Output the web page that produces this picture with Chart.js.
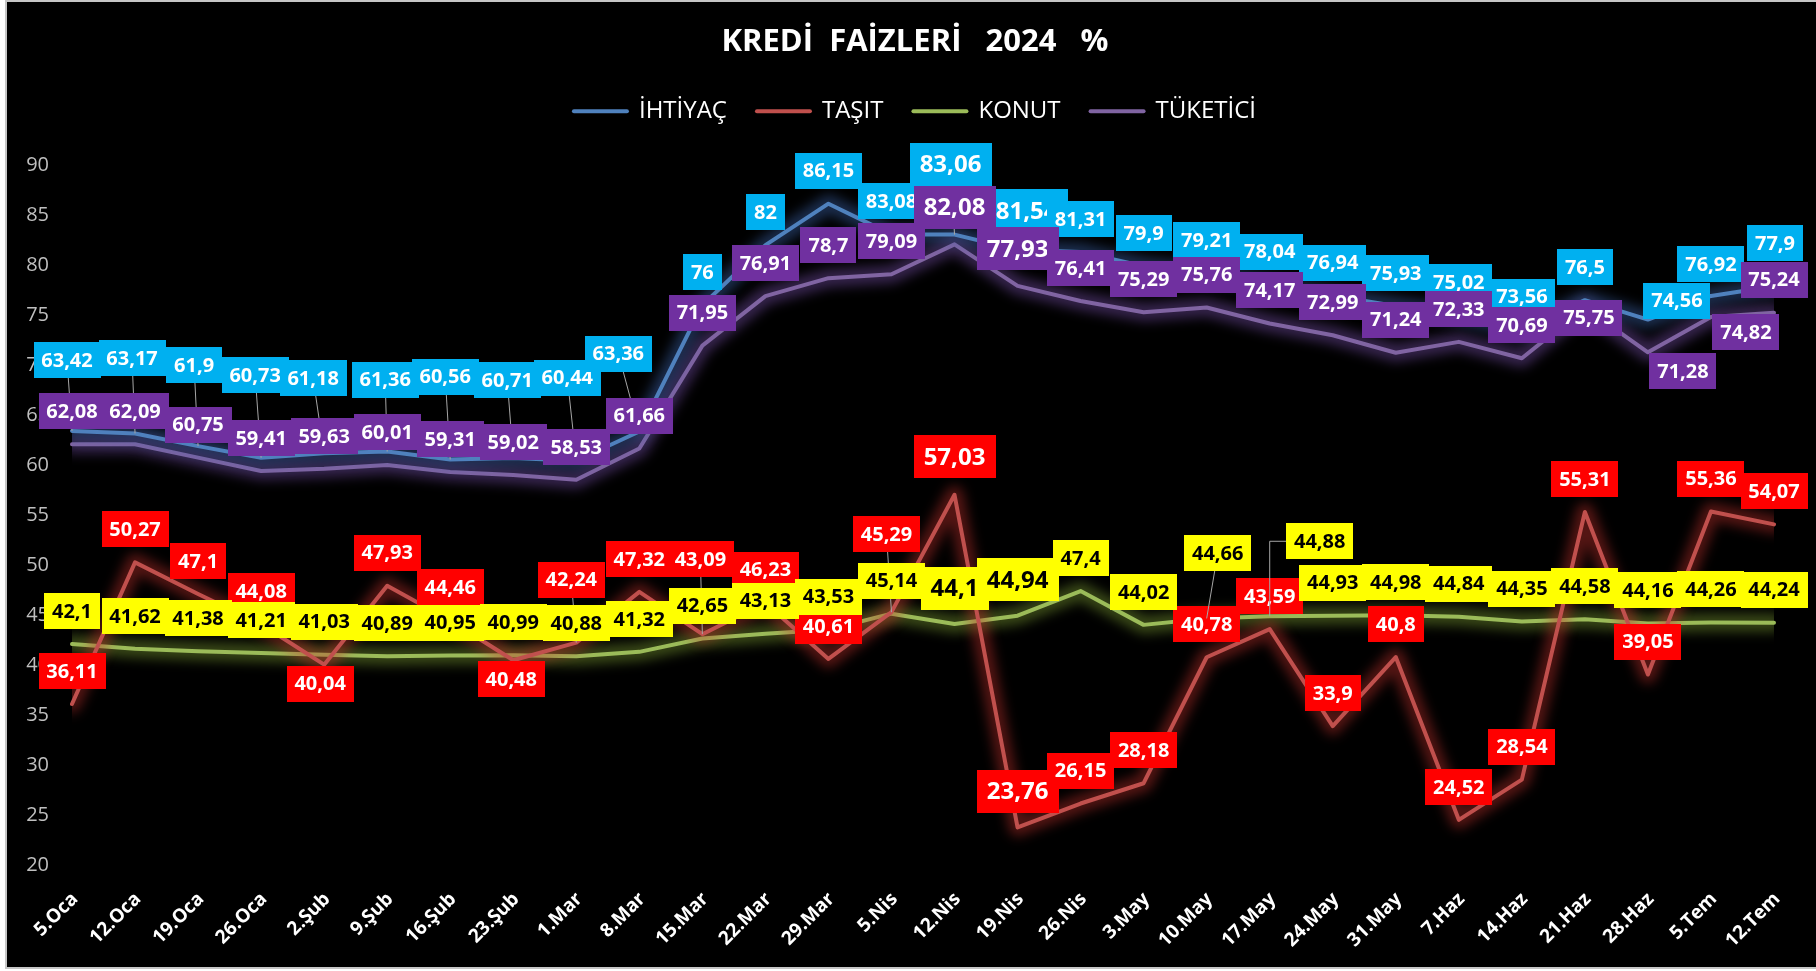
<!DOCTYPE html>
<html>
<head>
<meta charset="utf-8">
<script src="https://cdn.jsdelivr.net/npm/chart.js@4.4.1/dist/chart.umd.min.js"></script>
<style>
  html, body { margin: 0; padding: 0; background: #ffffff; width: 1816px; height: 971px; overflow: hidden; }
  #frame { position: absolute; left: 5px; top: 0; width: 1809px; height: 965px; background: #000;
           border-left: 2px solid #C6C6C6; border-top: 2px solid #C6C6C6; border-bottom: 2px solid #C6C6C6; }
  #chart { position: absolute; left: 0; top: 0; }
</style>
</head>
<body>
<div id="frame"></div>
<canvas id="chart" width="1816" height="971"></canvas>
<script>
// ---------------- data ----------------
const categories = ['5.Oca','12.Oca','19.Oca','26.Oca','2.Şub','9.Şub','16.Şub','23.Şub','1.Mar','8.Mar',
  '15.Mar','22.Mar','29.Mar','5.Nis','12.Nis','19.Nis','26.Nis','3.May','10.May','17.May',
  '24.May','31.May','7.Haz','14.Haz','21.Haz','28.Haz','5.Tem','12.Tem'];

const ihtiyac  = [63.42, 63.17, 61.9, 60.73, 61.18, 61.36, 60.56, 60.71, 60.44, 63.36,
  76, 82, 86.15, 83.08, 83.06, 81.54, 81.31, 79.9, 79.21, 78.04,
  76.94, 75.93, 75.02, 73.56, 76.5, 74.56, 76.92, 77.9];
const tasit    = [36.11, 50.27, 47.1, 44.08, 40.04, 47.93, 44.46, 40.48, 42.24, 47.32,
  43.09, 46.23, 40.61, 45.29, 57.03, 23.76, 26.15, 28.18, 40.78, 43.59,
  33.9, 40.8, 24.52, 28.54, 55.31, 39.05, 55.36, 54.07];
const konut    = [42.1, 41.62, 41.38, 41.21, 41.03, 40.89, 40.95, 40.99, 40.88, 41.32,
  42.65, 43.13, 43.53, 45.14, 44.1, 44.94, 47.4, 44.02, 44.66, 44.88,
  44.93, 44.98, 44.84, 44.35, 44.58, 44.16, 44.26, 44.24];
const tuketici = [62.08, 62.09, 60.75, 59.41, 59.63, 60.01, 59.31, 59.02, 58.53, 61.66,
  71.95, 76.91, 78.7, 79.09, 82.08, 77.93, 76.41, 75.29, 75.76, 74.17,
  72.99, 71.24, 72.33, 70.69, 75.75, 71.28, 74.82, 75.24];

const seriesNames = ['İHTİYAÇ', 'TAŞIT', 'KONUT', 'TÜKETİCİ'];
const yTickValues = [20, 25, 30, 35, 40, 45, 50, 55, 60, 65, 70, 75, 80, 85, 90];
const chartTitle = 'KREDİ  FAİZLERİ   2024   %';

// ---------------- label layout (pixel shifts of label centres from their points) ----------------
const bigLabelIdx = [14, 15];
const defaultShift = [0, -33];
const labelLayout = [
  { bg: '#00B0F0', fg: '#FFFFFF',
    shift: {0:[-5,-71],1:[-3,-75],2:[-4,-81],3:[-6,-83],4:[-11,-75],5:[-2,-72],6:[-5,-83],7:[-6,-78],8:[-9,-83],9:[-21,-78],
            14:[-4,-70],15:[9,-39],25:[29,-19],26:[0,-32],27:[1,-43]},
    leader: {0:'s',1:'s',2:'s',3:'s',4:'s',5:'s',6:'s',7:'s',8:'s',9:'s',14:'s'} },
  { bg: '#FF0000', fg: '#FFFFFF',
    shift: {4:[-4,19],7:[-2,19],8:[-5,-63],10:[-2,-75],13:[-5,-78],14:[0,-38],15:[0,-36]},
    leader: {8:'s',10:'s',13:'s'} },
  { bg: '#FFFF00', fg: '#000000',
    shift: {14:[0,-36],15:[0,-36],18:[11,-65],19:[50,-75]},
    leader: {18:'s',19:'e'} },
  { bg: '#7030A0', fg: '#FFFFFF',
    shift: {14:[0,-37],15:[0,-37],24:[4,10],25:[35,19],26:[35,15]},
    leader: {} }
];
const lineColors = ['#4F81BD', '#C0504D', '#9BBB59', '#8064A2'];
const glowColors = ['rgba(60,100,170,0.45)', 'rgba(200,50,45,0.42)', 'rgba(150,190,60,0.38)', 'rgba(120,80,170,0.45)'];

const FONT = '"Open Sans", "Noto Sans", sans-serif';
Chart.defaults.font.family = FONT;

function fmt(v) { return String(v).replace('.', ','); }

// soft glow under each line, drawn from the dataset's own element positions
const glowPlugin = {
  id: 'glow',
  beforeDatasetDraw(chart, args) {
    const ctx = chart.ctx;
    const pts = args.meta.data;
    const a = chart.chartArea;
    ctx.save();
    ctx.beginPath();
    ctx.rect(a.left, a.top - 20, a.right - a.left, a.bottom - a.top + 40);
    ctx.clip();
    ctx.filter = 'blur(6px)';
    ctx.strokeStyle = glowColors[args.index];
    ctx.lineWidth = 18;
    ctx.lineJoin = 'round';
    ctx.lineCap = 'round';
    ctx.beginPath();
    pts.forEach((p, i) => { if (i === 0) ctx.moveTo(p.x, p.y); else ctx.lineTo(p.x, p.y); });
    ctx.stroke();
    ctx.restore();
  }
};

const labelPlugin = {
  id: 'pointLabels',
  afterDatasetsDraw(chart) {
    const ctx = chart.ctx;
    chart.data.datasets.forEach((ds, di) => {
      const meta = chart.getDatasetMeta(di);
      const lay = labelLayout[di];
      meta.data.forEach((pt, i) => {
        const big = bigLabelIdx.includes(i);
        const fs = big ? 24 : 20;
        const sh = lay.shift[i] || defaultShift;
        const cx = pt.x + sh[0], cy = pt.y + sh[1];
        const text = fmt(ds.data[i]);
        ctx.save();
        ctx.font = 'bold ' + fs + 'px ' + FONT;
        const tw = ctx.measureText(text).width;
        const pad = big ? 10 : 8;
        const w = Math.round(tw + 2 * pad), h = big ? 43 : 36;
        const ld = lay.leader[i];
        if (ld) {
          ctx.beginPath();
          ctx.strokeStyle = '#A6A6A6';
          ctx.lineWidth = 1;
          ctx.moveTo(cx, cy);
          if (ld === 'e') ctx.lineTo(pt.x, cy);
          ctx.lineTo(pt.x, pt.y);
          ctx.stroke();
        }
        ctx.fillStyle = lay.bg;
        ctx.fillRect(Math.round(cx - w / 2), Math.round(cy - h / 2), w, h);
        ctx.fillStyle = lay.fg;
        ctx.textAlign = 'center';
        ctx.textBaseline = 'middle';
        ctx.fillText(text, cx, cy + 1);
        ctx.restore();
      });
    });
  }
};

const seriesData = [ihtiyac, tasit, konut, tuketici];

const chart = new Chart(document.getElementById('chart').getContext('2d'), {
  type: 'line',
  data: {
    labels: categories,
    datasets: seriesNames.map((name, i) => ({
      label: name,
      data: seriesData[i],
      borderColor: lineColors[i],
      backgroundColor: lineColors[i],
      borderWidth: 4,
      pointRadius: 0,
      pointHoverRadius: 0,
      tension: 0,
      fill: false,
      borderCapStyle: 'round',
      borderJoinStyle: 'round'
    }))
  },
  options: {
    responsive: false,
    animation: false,
    events: [],
    layout: { padding: { left: 14, right: 0, top: 0, bottom: 0 } },
    plugins: {
      title: {
        display: true, text: chartTitle, color: '#FFFFFF',
        font: { family: FONT, size: 31, weight: 'bold', lineHeight: 1.2 },
        padding: { top: 24, bottom: 8 }
      },
      legend: {
        display: true,
        labels: {
          color: '#FFFFFF',
          font: { family: FONT, size: 24 },
          usePointStyle: true,
          pointStyle: 'line',
          pointStyleWidth: 53,
          padding: 30,
          generateLabels(ch) {
            return ch.data.datasets.map((ds, i) => ({
              text: ds.label, fillStyle: ds.borderColor, strokeStyle: ds.borderColor,
              lineWidth: 4, lineCap: 'round', pointStyle: 'line', hidden: false,
              datasetIndex: i, fontColor: '#FFFFFF'
            }));
          }
        }
      },
      tooltip: { enabled: false }
    },
    scales: {
      x: {
        type: 'category',
        offset: false,
        grid: { display: false, drawTicks: false },
        border: { display: false },
        ticks: {
          autoSkip: false, maxRotation: 45, minRotation: 45,
          color: '#FFFFFF', font: { family: FONT, size: 19, weight: 'bold' },
          padding: 23, labelOffset: 3
        },
        afterFit(s) { s.height = 106; s.paddingLeft = 0; s.paddingRight = 42; }
      },
      xTop: {
        type: 'category',
        position: 'top',
        offset: false,
        grid: { display: false, drawTicks: false },
        border: { display: false },
        ticks: { display: false },
        afterFit(s) { s.height = 32; s.paddingLeft = 0; s.paddingRight = 0; }
      },
      y: {
        min: 20, max: 90,
        grid: { display: false, drawTicks: false },
        border: { display: false },
        ticks: { color: '#BFBFBF', font: { family: FONT, size: 20 }, padding: 23 },
        afterBuildTicks(s) { s.ticks = yTickValues.map(v => ({ value: v })); },
        afterFit(s) { s.width = 58; }
      }
    }
  },
  plugins: [glowPlugin, labelPlugin]
});
</script>
</body>
</html>
